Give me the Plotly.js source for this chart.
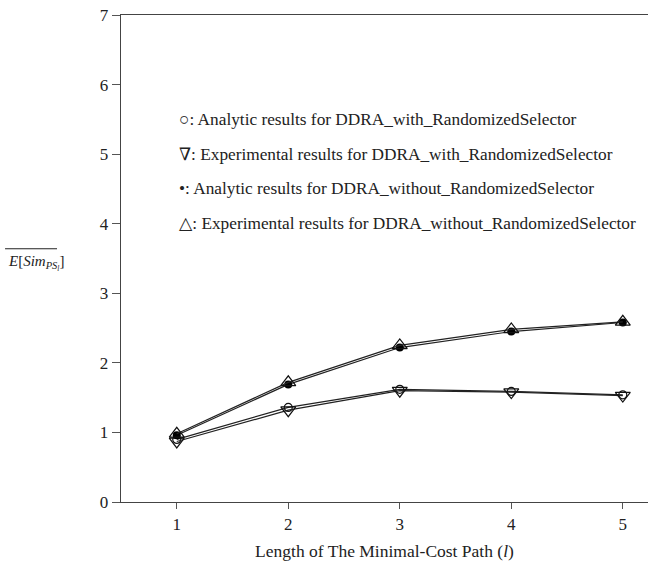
<!DOCTYPE html>
<html>
<head>
<meta charset="utf-8">
<script src="https://cdn.plot.ly/plotly-3.0.1.min.js"></script>
<style>html,body{margin:0;padding:0;background:#fff;}#chart{width:648px;height:561px;}</style>
</head>
<body>
<div id="chart"></div>
<script>
const pathLength = [1, 2, 3, 4, 5];
const analyticWith = [0.90, 1.36, 1.62, 1.59, 1.54];
const experimentalWith = [0.87, 1.32, 1.60, 1.58, 1.53];
const analyticWithout = [0.96, 1.69, 2.22, 2.45, 2.58];
const experimentalWithout = [0.98, 1.72, 2.25, 2.48, 2.59];
const legendLines = [
  "○: Analytic results for DDRA_with_RandomizedSelector",
  "∇: Experimental results for DDRA_with_RandomizedSelector",
  "•: Analytic results for DDRA_without_RandomizedSelector",
  "△: Experimental results for DDRA_without_RandomizedSelector"
];
const legendY = [5.5, 5.0, 4.5, 4.0];
const yTicks = [0, 1, 2, 3, 4, 5, 6, 7];
const xTicks = [1, 2, 3, 4, 5];

const FONT = "Liberation Serif, DejaVu Serif, serif";
const lineStyle = {color: "#222", width: 1.2};

const traces = [
  {x: pathLength, y: analyticWith, mode: "lines+markers", line: lineStyle,
   marker: {symbol: "circle-open", size: 8, color: "#111", line: {width: 1.2}}},
  {x: pathLength, y: experimentalWith, mode: "lines+markers", line: lineStyle,
   marker: {symbol: "triangle-down-open", size: 13, color: "#111", line: {width: 1.2}}},
  {x: pathLength, y: analyticWithout, mode: "lines+markers", line: lineStyle,
   marker: {symbol: "circle", size: 8, color: "#000"}},
  {x: pathLength, y: experimentalWithout, mode: "lines+markers", line: lineStyle,
   marker: {symbol: "triangle-up-open", size: 13, color: "#111", line: {width: 1.2}}}
];

const annotations = legendLines.map((t, i) => ({
  x: 1, y: legendY[i], xref: "x", yref: "y", xanchor: "left", yanchor: "middle",
  text: t, showarrow: false, font: {family: FONT, size: 17.3, color: "#222"}
}));
annotations.push({
  x: -0.218, y: 3.44, xref: "paper", yref: "y", xanchor: "left", yanchor: "middle",
  text: '<i>E</i>[<i>Sim</i><sub><i>PS<sub>l</sub></i></sub>]',
  showarrow: false, font: {family: FONT, size: 15, color: "#222"}
});

const layout = {
  width: 648, height: 561,
  margin: {l: 121, r: 0, t: 15, b: 59},
  paper_bgcolor: "#fff", plot_bgcolor: "#fff",
  showlegend: false,
  font: {family: FONT, size: 16, color: "#222"},
  xaxis: {
    range: [0.5, 5.226], tickvals: xTicks, ticktext: xTicks.map(String),
    showgrid: false, zeroline: false, showline: true, mirror: true,
    linecolor: "#444", linewidth: 1.3, ticks: "outside", ticklen: 6, tickcolor: "#555",
    tickfont: {family: FONT, size: 17, color: "#222"},
    title: {text: "Length of The Minimal-Cost Path (<i>l</i>)", font: {family: FONT, size: 17.5, color: "#222"}, standoff: 12}
  },
  yaxis: {
    range: [0, 7], tickvals: yTicks, ticktext: yTicks.map(String),
    showgrid: false, zeroline: false, showline: true,
    linecolor: "#444", linewidth: 1.3, ticks: "outside", ticklen: 8, tickcolor: "#555",
    tickfont: {family: FONT, size: 17, color: "#222"}
  },
  shapes: [{
    type: "line", xref: "paper", yref: "y",
    x0: -0.220, x1: -0.1214, y0: 3.64, y1: 3.64,
    line: {color: "#222", width: 1}
  }],
  annotations: annotations
};

Plotly.newPlot("chart", traces, layout, {displayModeBar: false, staticPlot: true});
</script>
</body>
</html>
